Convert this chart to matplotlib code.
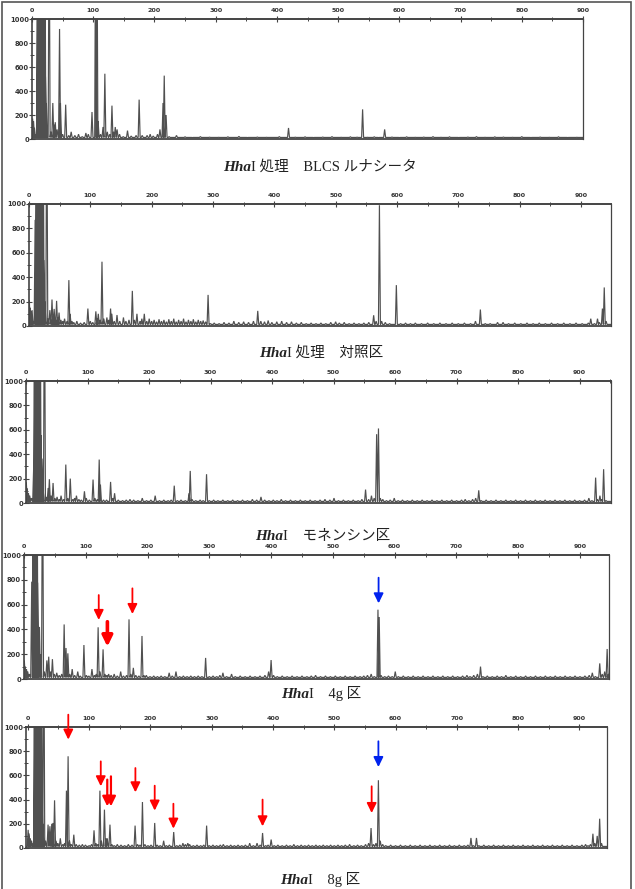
import matplotlib
matplotlib.use('Agg')
import matplotlib.pyplot as plt
from matplotlib.ticker import MultipleLocator
from matplotlib.patches import Rectangle
from matplotlib.text import Annotation

# Peaks: (fragment size bp, height)
# dark overloaded bands near the start are listed separately (off scale)
blcs_peaks = [(1, 170), (2.5, 150), (4, 90), (6, 40), (22, 520), (23.5, 300), (28, 2000), (31, 60),
              (34, 300), (36, 120), (38, 140), (41, 80), (45, 917), (46.5, 300), (50, 40), (55, 286),
              (60, 30), (64, 60), (70, 30), (76, 40), (82, 20), (88, 50), (92, 40), (98, 225),
              (104, 2000), (106, 2000), (108, 150), (112, 40), (116, 100), (119, 544), (123, 60),
              (127, 40), (130.6, 278), (133, 60), (136, 100), (139, 80), (143, 40), (149, 20),
              (156, 70), (162, 25), (170, 30), (175, 328), (180, 30), (188, 30), (193, 40), (198, 25),
              (205, 40), (209, 80), (214, 300), (216, 528), (219, 200), (224, 20), (236, 30),
              (250, 18), (262, 12), (275, 20), (290, 15), (305, 14), (320, 18), (338, 22), (352, 12),
              (368, 16), (383, 14), (404, 20), (419, 92), (430, 15), (446, 18), (460, 12), (475, 16),
              (490, 20), (505, 14), (520, 18), (531, 15), (540, 247), (548, 14), (559, 18), (566, 12),
              (576, 80), (588, 16), (600, 12), (612, 18), (626, 14), (640, 16), (655, 20), (668, 14),
              (682, 18), (697, 12), (712, 16), (726, 20), (740, 14), (756, 18), (770, 16), (785, 14),
              (800, 20), (815, 12), (830, 16), (845, 14), (860, 18), (875, 12), (890, 14)]
blcs_band = [9, 10, 11, 12, 13, 14, 15, 16, 17, 18, 19, 20, 21]

ctrl_peaks = [(0.5, 212), (2, 150), (3.5, 120), (5, 130), (7, 40), (10, 870), (24, 540), (26, 200),
              (29, 2000), (31, 60), (34, 130), (37.5, 217), (39, 80), (41, 140), (43, 60), (45, 206),
              (47, 70), (49, 110), (52, 50), (55, 40), (58, 60), (62, 40), (65, 376), (67, 100),
              (70, 40), (73, 30), (78, 40), (84, 25), (90, 30), (96, 143), (100, 40), (104, 30),
              (109, 120), (111, 60), (113, 100), (116, 50), (119, 527), (122, 60), (127, 70),
              (130, 50), (133, 143), (135, 100), (139, 40), (143.5, 90), (148, 40), (154, 70),
              (158, 40), (163, 50), (168.5, 288), (172, 50), (176, 100), (181, 40), (184, 60),
              (188, 100), (192, 40), (196, 60), (200, 40), (204, 50), (208, 35), (212, 55), (216, 40),
              (220, 50), (224, 35), (228, 55), (232, 40), (236, 60), (240, 35), (244, 50), (248, 40),
              (252, 60), (256, 35), (260, 50), (264, 40), (268, 55), (272, 35), (276, 50), (280, 40),
              (284, 45), (288, 35), (292, 255), (296, 20), (302, 25), (310, 20), (318, 30), (326, 25),
              (334, 40), (342, 30), (350, 35), (358, 30), (366, 40), (373, 124), (378, 40), (384, 35),
              (390, 45), (396, 30), (404, 35), (412, 40), (420, 30), (428, 35), (436, 25), (444, 30),
              (452, 20), (460, 25), (468, 20), (476, 25), (484, 20), (492, 30), (500, 35), (506, 25),
              (514, 30), (522, 20), (530, 25), (538, 20), (546, 25), (554, 30), (562, 88), (566, 40),
              (571.4, 990), (575, 40), (581, 30), (588, 20), (599, 335), (606, 20), (614, 25),
              (622, 20), (630, 25), (640, 20), (650, 25), (660, 20), (670, 25), (680, 20), (690, 25),
              (700, 20), (710, 25), (720, 20), (728, 40), (736, 135), (744, 20), (752, 20), (764, 30),
              (773, 30), (782, 20), (792, 25), (802, 20), (812, 25), (822, 20), (832, 25), (842, 20),
              (852, 25), (862, 20), (872, 25), (882, 20), (892, 25), (902, 20), (912, 25), (916, 60),
              (922, 20), (927, 60), (930, 30), (935, 143), (938, 316), (941, 40)]
ctrl_band = [12, 13, 14, 15, 16, 17, 18, 19, 20, 21, 22, 23]

mon_peaks = [(0.5, 170), (2, 120), (4, 80), (6, 60), (9, 40), (12.5, 300), (24.5, 556), (26, 364),
             (28, 100), (30, 2000), (33, 50), (36, 123), (38, 195), (41, 60), (44, 164), (47, 40),
             (50.5, 50), (54, 30), (57, 60), (61, 30), (64.7, 315), (68, 40), (72, 200), (76, 30),
             (79, 40), (82, 60), (86, 30), (90, 25), (95, 96), (98, 40), (103, 25), (109, 192),
             (112, 40), (116, 30), (119, 356), (121, 150), (126, 25), (131, 25), (137.5, 173),
             (141, 40), (144, 80), (150, 25), (157, 20), (163, 25), (169, 30), (175, 25), (182, 20),
             (189, 40), (196, 20), (203, 25), (210, 60), (217, 20), (224, 25), (231, 20), (236, 25),
             (241, 142), (246, 20), (252, 25), (259, 20), (265, 80), (267, 263), (270, 30), (276, 20),
             (283, 25), (288, 20), (293.5, 236), (298, 20), (305, 25), (312, 20), (320, 25), (328, 20),
             (336, 25), (344, 20), (352, 25), (360, 20), (368, 30), (375, 25), (382, 50), (388, 25),
             (395, 20), (402, 25), (408, 20), (415, 30), (422, 20), (430, 25), (438, 20), (446, 25),
             (454, 20), (462, 25), (470, 20), (478, 25), (486, 30), (494, 25), (500.7, 40), (508, 20),
             (516, 25), (524, 20), (532, 25), (540, 20), (546, 30), (552, 110), (557, 30),
             (561.6, 60), (566, 40), (570, 564), (573, 611), (576, 40), (580, 30), (586, 20),
             (592, 25), (598.6, 40), (605, 20), (612, 25), (620, 20), (628, 25), (636, 20), (644, 25),
             (652, 20), (660, 25), (668, 20), (676, 25), (684, 20), (692, 25), (700, 20), (708, 25),
             (714, 30), (720, 20), (726, 30), (731, 40), (736, 104), (740, 20), (748, 25), (756, 20),
             (764, 25), (772, 20), (780, 25), (788, 20), (796, 25), (804, 20), (812, 25), (820, 20),
             (828, 25), (836, 20), (844, 25), (852, 20), (860, 25), (868, 20), (876, 25), (884, 20),
             (892, 25), (900, 20), (908, 25), (915, 40), (920, 20), (926, 208), (929, 30), (933, 60),
             (936, 30), (939, 277), (943, 20)]
mon_band = [14, 15, 16, 17, 18, 19, 20, 21, 22, 23]

g4_peaks = [(0.5, 150), (2, 100), (4, 80), (6, 60), (9, 40), (12.5, 785), (22, 777), (25, 420),
            (27, 200), (30, 2000), (33, 60), (37, 150), (40, 180), (43, 60), (46, 160), (49, 40),
            (53, 50), (57, 30), (61, 40), (65, 440), (68, 250), (71, 207), (74, 40), (78, 80),
            (82, 30), (87, 60), (91, 25), (97, 274), (101, 30), (105, 25), (110, 80), (114, 30),
            (117, 40), (120, 417), (123, 60), (128, 239), (131, 40), (134, 30), (137, 40), (141, 30),
            (146, 40), (151, 25), (156.5, 60), (161, 25), (166, 30), (170, 481), (173, 40), (177, 90),
            (181, 30), (186, 25), (191, 347), (194, 30), (198, 30), (204, 20), (210, 25), (216, 20),
            (222, 25), (228, 20), (235, 50), (240, 25), (246, 60), (252, 20), (258, 25), (264, 20),
            (270, 25), (276, 20), (282, 25), (288, 20), (294, 170), (300, 20), (306, 25), (312, 20),
            (317, 30), (322, 50), (328, 20), (336, 40), (342, 20), (350, 25), (358, 20), (366, 25),
            (374, 20), (382, 25), (390, 30), (396, 60), (400, 153), (404, 30), (410, 20), (418, 25),
            (426, 20), (434, 25), (442, 20), (450, 25), (458, 20), (465, 25), (472, 30), (480, 20),
            (488, 25), (496, 20), (504, 25), (512, 20), (520, 25), (528, 20), (536, 25), (544, 20),
            (550, 25), (556, 30), (562, 40), (567, 20), (573, 559), (575, 500), (578, 30), (584, 20),
            (590, 25), (596, 20), (601, 60), (606, 20), (614, 25), (622, 20), (630, 25), (638, 20),
            (646, 25), (654, 20), (662, 25), (670, 20), (678, 25), (686, 20), (694, 25), (702, 20),
            (710, 25), (717, 30), (722, 20), (728, 30), (734, 40), (739, 100), (743, 20), (750, 25),
            (758, 20), (766, 25), (773, 20), (780, 30), (788, 20), (796, 25), (804, 20), (812, 25),
            (820, 20), (828, 25), (836, 20), (844, 25), (852, 20), (860, 25), (868, 20), (876, 25),
            (884, 20), (892, 25), (900, 20), (908, 25), (915, 30), (920, 50), (925, 20), (932, 126),
            (936, 40), (940, 60), (944, 242), (946, 40)]
g4_band = [15, 16, 17, 18, 19, 20, 21]

g8_peaks = [(0.5, 150), (2, 120), (4, 80), (6, 60), (9, 40), (23, 537), (24.5, 200), (26, 2000),
            (29, 60), (33, 193), (36, 180), (39, 200), (41, 207), (43.6, 394), (46, 60), (49, 40),
            (53, 80), (57, 30), (60, 40), (63, 474), (65.7, 758), (68, 60), (71, 30), (75, 110),
            (79, 30), (84, 25), (89, 30), (94, 25), (100, 20), (104, 30), (108, 146), (111, 40),
            (114, 30), (117.6, 474), (120, 60), (125, 317), (127.5, 80), (129.6, 80), (134, 193),
            (137, 30), (141, 20), (146, 30), (152, 25), (158, 20), (164, 30), (170, 25), (175, 185),
            (179, 30), (183, 25), (187, 380), (191, 30), (196, 20), (201, 25), (207, 207), (211, 25),
            (216, 20), (221.6, 60), (226, 20), (231, 25), (238, 132), (243, 20), (248, 25), (253, 40),
            (257, 30), (261, 40), (264, 30), (270, 20), (276, 25), (282, 20), (287, 25),
            (291.7, 185), (296, 20), (302, 25), (308, 20), (314, 25), (319, 30), (325, 20), (331, 25),
            (337, 20), (343, 25), (349, 20), (355, 25), (362, 40), (368, 20), (374, 40), (379, 25),
            (383, 124), (388, 20), (392, 25), (397, 70), (402, 20), (408, 25), (415, 20), (422, 25),
            (428, 20), (434, 30), (440, 20), (446, 25), (452, 20), (458, 25), (464, 20), (470, 25),
            (476, 20), (482, 25), (488, 20), (494, 25), (500, 20), (506, 25), (512, 20), (518, 25),
            (525, 30), (532, 20), (538, 25), (544, 20), (551, 30), (556, 40), (560, 165), (564, 30),
            (568, 40), (572, 560), (575, 60), (579, 30), (584, 20), (592, 25), (600, 20), (608, 25),
            (616, 20), (624, 25), (632, 20), (640, 25), (648, 20), (656, 25), (664, 20), (672, 25),
            (680, 20), (688, 25), (696, 20), (704, 25), (712, 20), (718, 25), (723, 83), (727, 20),
            (732, 83), (736, 20), (744, 25), (752, 20), (760, 25), (768, 20), (776, 25), (784, 20),
            (792, 25), (800, 20), (808, 25), (816, 20), (824, 25), (832, 20), (840, 25), (848, 20),
            (856, 25), (864, 20), (872, 25), (880, 20), (888, 25), (896, 20), (904, 25), (910, 30),
            (914, 20), (918, 30), (922, 118), (925, 40), (929, 100), (933, 242), (936, 40)]
g8_band = [11, 12, 13, 14, 15, 16, 17, 18, 19, 20, 21, 22]

# arrows marking changed fragments: (bp, tail height, tip height)
g4_red = [(121, 677, 476), (175.5, 731, 524)]
g4_red_bold = [(135, 462, 261)]
g4_blue = [(574, 817, 610)]
g8_red = [(66, 1102, 896), (119, 716, 510), (175.5, 661, 460), (207, 515, 309),
          (237.5, 366, 160), (383, 400, 179), (561, 510, 289)]
g8_red_bold = [(129.6, 565, 344), (135.6, 592, 344)]
g8_blue = [(572, 882, 669)]

captions = [
    'I 処理\u3000BLCS ルナシータ',
    'I 処理\u3000対照区',
    'I\u3000モネンシン区',
    'I\u30004g 区',
    'I\u30008g 区',
]

W, H = 635, 889
fig = plt.figure(figsize=(W / 100, H / 100), dpi=100)
fig.patch.set_facecolor('white')

# axes boxes in pixels: left, right, top, bottom
boxes = [(32, 583, 19, 139), (29, 611, 204, 326), (26, 611, 381, 503),
         (24, 609, 555, 679), (26, 607, 727, 848)]
xlims = [(0, 900), (0, 949), (0, 951), (0, 947), (-3, 945)]
# caption start x and baseline y in pixels
cap_pos = [(223, 171), (259, 357), (255, 540), (281, 698), (280, 884)]

panels = [(blcs_peaks, blcs_band), (ctrl_peaks, ctrl_band), (mon_peaks, mon_band),
          (g4_peaks, g4_band), (g8_peaks, g8_band)]

axc = '#444444'
axes = []
for i, ((peaks, band), (l, r, t, b)) in enumerate(zip(panels, boxes)):
    ax = fig.add_axes([l / W, 1 - b / H, (r - l) / W, (b - t) / H])
    axes.append(ax)
    pts = sorted(peaks + [(c, 2000) for c in band])
    base = 13
    xs, ys = [xlims[i][0]], [base]
    for bp, h in pts:
        xs += [bp - 1.6, bp, bp + 1.6]
        ys += [base, h, base]
    xs.append(xlims[i][1])
    ys.append(base)
    ax.plot(xs, ys, color='#505050', lw=0.85, solid_joinstyle='miter')
    ax.set_xlim(*xlims[i])
    ax.set_ylim(0, 1000)

    ax.xaxis.set_major_locator(MultipleLocator(100))
    ax.xaxis.set_minor_locator(MultipleLocator(50))
    ax.yaxis.set_major_locator(MultipleLocator(200))
    ax.yaxis.set_minor_locator(MultipleLocator(100))
    ax.tick_params(axis='x', which='both', top=True, bottom=False, labeltop=True,
                   labelbottom=False, direction='inout', color=axc)
    ax.tick_params(axis='x', which='major', length=4, width=0.8, pad=2, labelsize=4.6)
    ax.tick_params(axis='x', which='minor', length=3, width=0.7)
    ax.tick_params(axis='y', which='both', left=True, right=False, direction='inout', color=axc)
    ax.tick_params(axis='y', which='major', length=4, width=0.8, pad=0.2, labelsize=4.9)
    ax.tick_params(axis='y', which='minor', length=3, width=0.7)
    for lab in ax.get_xticklabels() + ax.get_yticklabels():
        lab.set_fontweight('bold')
        lab.set_color('#333333')
    for side, lw in [('top', 1.4), ('left', 1.2), ('bottom', 1.3), ('right', 0.9)]:
        ax.spines[side].set_linewidth(lw)
        ax.spines[side].set_color(axc)

    # caption: italic "Hha" followed by the rest
    cx, cy = cap_pos[i]
    t1 = fig.text(cx / W, 1 - cy / H, 'Hha', family='Liberation Serif', style='italic',
                  weight='bold', fontsize=11, va='baseline', color='#222222')
    fig.add_artist(Annotation(captions[i], xy=(1, 0), xycoords=t1, va='bottom',
                              family=['Liberation Serif', 'Noto Sans CJK JP'],
                              fontsize=10.5, color='#222222'))


def draw_arrows(ax, arrows, color, lw, scale):
    for bp, tail, tip in arrows:
        ax.annotate('', xy=(bp, tip), xytext=(bp, tail), annotation_clip=False,
                    arrowprops=dict(arrowstyle='-|>,head_length=0.45,head_width=0.22',
                                    color=color, lw=lw, mutation_scale=scale,
                                    shrinkA=0, shrinkB=0))


draw_arrows(axes[3], g4_red, '#ff0000', 1.3, 13)
draw_arrows(axes[3], g4_red_bold, '#ff0000', 2.6, 14)
draw_arrows(axes[3], g4_blue, '#0022ee', 1.3, 13)
draw_arrows(axes[4], g8_red, '#ff0000', 1.3, 13)
draw_arrows(axes[4], g8_red_bold, '#ff0000', 1.6, 13)
draw_arrows(axes[4], g8_blue, '#0022ee', 1.3, 13)

# outer frame of the figure
fig.add_artist(Rectangle((2 / W, -0.01), 629 / W, 1 - 2 / H + 0.01, transform=fig.transFigure,
                         fill=False, edgecolor='#555555', lw=1.2))

plt.savefig('out.png', dpi=100)
